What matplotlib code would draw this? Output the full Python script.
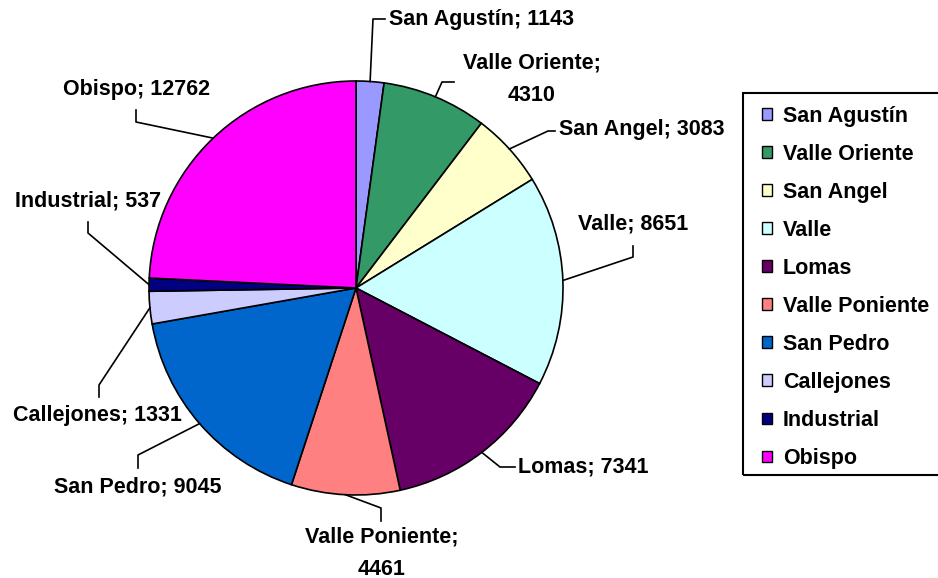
import numpy as np
import matplotlib.pyplot as plt
from matplotlib.patches import Patch, Rectangle

# Datos
zonas = ['San Agustín', 'Valle Oriente', 'San Angel', 'Valle', 'Lomas',
         'Valle Poniente', 'San Pedro', 'Callejones', 'Industrial', 'Obispo']
valores = [1143, 4310, 3083, 8651, 7341, 4461, 9045, 1331, 537, 12762]
colores = ['#9999FF', '#339966', '#FFFFCC', '#CCFFFF', '#660066',
           '#FF8080', '#0066CC', '#CCCCFF', '#000080', '#FF00FF']

# Geometría de la figura (pixeles)
W, H = 938, 578
cx, cy, R = 356, 288, 207

def px(x, y):
    return (x - cx) / R, (cy - y) / R

# Posiciones de etiquetas: codo, final de la guía, texto, alineación
layout = [
    ((373, 19), (385, 19), (389, 19), 'left'),
    ((442, 82), (454, 82), (532, 79), 'center'),
    ((548, 131), (555, 131), (559, 130), 'left'),
    ((633, 257), (633, 246), (633, 224), 'center'),
    ((500, 467), (515, 467), (518, 467), 'left'),
    ((381, 508), (381, 521), (382, 553), 'center'),
    ((138, 455), (138, 468), (138, 487), 'center'),
    ((99, 385), (99, 397), (97, 416), 'center'),
    ((88, 233), (88, 222), (88, 201), 'center'),
    ((136, 122), (136, 110), (137, 90), 'center'),
]
multilinea = {'Valle Oriente', 'Valle Poniente'}

plt.rcParams['font.family'] = ['Liberation Sans', 'DejaVu Sans']
fs = 15.5

fig = plt.figure(figsize=(W / 100, H / 100), dpi=100)
ax = fig.add_axes([0, 0, 1, 1])

wedges, _ = ax.pie(valores, colors=colores, startangle=90, counterclock=False,
                   radius=1, wedgeprops=dict(edgecolor='black', linewidth=1.2))
ax.set_xlim(-cx / R, (W - cx) / R)
ax.set_ylim(-(H - cy) / R, cy / R)
ax.set_aspect('equal', adjustable='box')
ax.axis('off')

# Etiquetas con guías
for w, zona, val, (codo, fin, txt, ha) in zip(wedges, zonas, valores, layout):
    ang = np.deg2rad((w.theta1 + w.theta2) / 2)
    x0, y0 = np.cos(ang), np.sin(ang)
    x1, y1 = px(*codo)
    x2, y2 = px(*fin)
    ax.plot([x0, x1, x2], [y0, y1, y2], color='black', linewidth=1.2)
    sep = ';\n' if zona in multilinea else '; '
    tx, ty = px(*txt)
    ax.text(tx, ty, f'{zona}{sep}{val}', ha=ha, va='center', fontsize=fs,
            fontweight='bold', linespacing=1.70)

# Leyenda
handles = [Patch(facecolor=c, edgecolor='black', linewidth=1) for c in colores]
leg = fig.legend(handles, zonas, loc='upper left',
                 bbox_to_anchor=(762 / W, 1 - 106 / H), frameon=False,
                 prop=dict(size=fs, weight='bold'),
                 handlelength=0.465, handleheight=0.465, handletextpad=0.51,
                 labelspacing=0.79, borderpad=0, borderaxespad=0)
fig.patches.append(Rectangle((743 / W, 1 - 475 / H), 210 / W, 382 / H,
                             transform=fig.transFigure, fill=False,
                             edgecolor='black', linewidth=1.5))

plt.savefig('out.png', dpi=100)
